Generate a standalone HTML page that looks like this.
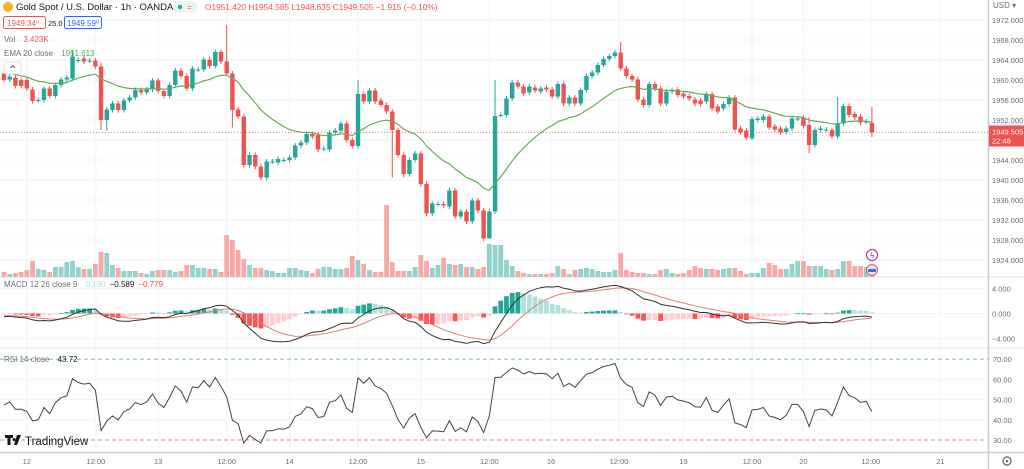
<!DOCTYPE html>
<html><head><meta charset="utf-8">
<style>
html,body{margin:0;padding:0;background:#fff;width:1024px;height:469px;overflow:hidden;font-family:"Liberation Sans",sans-serif;}
#wrap{position:relative;width:1024px;height:469px;}
svg{position:absolute;left:0;top:0;}
</style></head>
<body>
<div id="wrap">
<svg id="chart" width="1024" height="469" viewBox="0 0 1024 469"></svg>
</div>
<script>
// ---- data ----
const opens=[1961.3,1960.1,1960.5,1960.0,1960.0,1958.1,1956,1956,1958.3,1956.8,
1959,1960.1,1960.3,1964,1964.3,1963.9,1963.9,1962.7,1952,1954,
1955.3,1954,1955.9,1956.5,1958,1957.5,1958.1,1959.9,1957.8,1956.8,
1959,1961.9,1960.8,1958.3,1962.1,1962.1,1964.1,1962.8,1965.6,1963.7,
1961.3,1954.1,1952.7,1943,1945,1942.7,1940.5,1943.7,1943.5,1944,
1944,1944.5,1946.9,1947.5,1949.2,1949,1946.3,1946.1,1949.5,1949.9,
1951.3,1948,1946.8,1957.2,1955.7,1957.9,1955.9,1955,1953.7,1950,
1945,1941.2,1944,1945.3,1939.2,1933.3,1935.2,1935.2,1934.7,1937.9,
1932.7,1933.7,1931.7,1935.9,1933.9,1928.3,1933.7,1953,1953,1956.3,
1959.5,1958.7,1957.5,1958.5,1957.7,1958.5,1958.1,1956.7,1959.2,1955.3,
1956.5,1955.3,1958,1960.8,1961.5,1963,1964.2,1964.8,1965.5,1962.3,
1960.8,1960.1,1956.1,1955,1959.2,1958.3,1955.3,1957.7,1958.1,1957.3,
1956.8,1956.1,1955.9,1955.7,1957.2,1954.7,1954.3,1955.2,1956.5,1950.3,
1949.9,1948.3,1952,1952,1952.7,1950.7,1950.3,1949.6,1950.3,1952.3,
1952.5,1951,1947,1950,1950.1,1950,1948.7,1951.3,1954.8,1953.2,
1952.7,1951.7,1951.4];
const closes=[1960.0,1960.7,1958.8,1958.8,1958.3,1955.8,1956,1958.3,1956.8,1959,
1960.1,1960.5,1964.7,1964,1963.7,1963.9,1962.7,1952,1954.1,1955.3,
1954,1955.9,1956.5,1958,1957.5,1958.1,1959.9,1957.8,1956.8,1959,
1961.9,1960.8,1958.3,1962.3,1962.1,1964.1,1962.8,1965.6,1963.7,1961.3,
1954,1952.7,1943,1945,1942.7,1940.5,1943.7,1943.7,1944.2,1944,
1944.5,1946.9,1947.5,1949.2,1948.7,1946.1,1946.3,1949.5,1949.9,1951.3,
1948,1946.8,1957.2,1955.7,1957.9,1955.7,1955,1953.7,1950,1945,
1941.2,1944,1945.3,1939.2,1933.3,1935.3,1935.2,1934.9,1937.9,1932.7,
1933.7,1931.7,1935.9,1933.9,1928.3,1933.7,1952.8,1953,1956.3,1959.5,
1958.7,1957.3,1958.7,1957.9,1958.3,1958.1,1956.7,1959.2,1955.3,1956.5,
1955.3,1958,1960.8,1961.5,1963,1964.2,1964.8,1965.5,1962.3,1960.8,
1960.1,1956.1,1955,1959.2,1958.3,1955.3,1957.7,1958,1957,1956.7,
1956.3,1955.3,1955.2,1957.2,1954.3,1953.7,1955.2,1956.5,1950.1,1949.5,
1948.5,1952.2,1952.3,1952.7,1950.5,1950.1,1949.5,1950.3,1952.3,1952.3,
1950.8,1947,1950,1950.3,1950.1,1948.7,1951.3,1954.8,1953,1952.5,
1951.5,1951.7,1949.5];
const highOverrides={12:1966,17:1963.5,39:1971,62:1960,86:1960,108:1967.6,141:1952.6,146:1956.6,152:1954.6};
const lowOverrides={17:1950,18:1949.8,40:1950.5,68:1940.5,84:1927.8,85:1933,70:1940.5,141:1945.4,152:1948.6,131:1948};
const volumes=[5,3,4,5,7,16,8,7,5,10,10,15,16,10,8,8,13,25,24,12,9,6,6,6,4,3,6,7,7,7,
5,6,12,12,9,9,8,8,5,42,37,27,18,12,9,9,7,6,4,4,9,9,7,6,4,8,10,10,8,8,
9,21,17,13,7,5,5,72,15,6,6,6,10,22,16,9,12,19,13,12,13,10,10,8,10,33,32,
32,17,11,6,4,3,3,3,3,4,11,8,3,7,8,9,8,6,5,5,7,24,7,5,4,4,3,3,7,8,
4,3,4,7,11,9,8,8,7,8,9,9,6,3,4,4,9,14,12,8,8,13,16,16,11,11,11,8,7,8,16,16,11,11,10,8];
const timeTickIdx=[4,16.1,27,39,50,62,73,85,95.8,107.7,119,131,140,151.8,164];
const timeTickLabels=["12","12:00","13","12:00","14","12:00","15","12:00","16","12:00","19","12:00","20","12:00","21"];
const priceTicks=[1972,1968,1964,1960,1956,1952,1944,1940,1936,1932,1928,1924];
const macdTicks=[4,0,-4];
const macdTickLabels=["4.000","0.000","\u22124.000"];
const rsiTicks=[70,60,50,40,30];

// ---- axes ----
const NS='http://www.w3.org/2000/svg';
const svg=document.getElementById('chart');
const xOf=i=>4+i*5.71;
const py=p=>20+(1972-p)*5;
const vy=v=>277-v;
const my=m=>313.5-m*6.3;
const ry=r=>440-(r-30)*2.02;
const UP='#26a69a',DN='#ef5350';
function mk(tag,attrs,parent){const e=document.createElementNS(NS,tag);for(const k in attrs)e.setAttribute(k,attrs[k]);(parent||svg).appendChild(e);return e;}
function txt(x,y,s,attrs){const e=mk('text',Object.assign({x:x,y:y,'font-size':8.5,fill:'#131722','font-family':'Liberation Sans, sans-serif'},attrs||{}));e.textContent=s;return e;}

const grid=mk('g',{});


timeTickIdx.forEach(ix=>{const l=mk('line',{x1:xOf(ix),x2:xOf(ix),y1:0,y2:452,stroke:'#f0f3fa','stroke-width':1},grid);

});
priceTicks.concat([1948]).forEach(p=>{const l=mk('line',{x1:0,x2:988,y1:py(p),y2:py(p),stroke:'#f0f3fa'},grid);

});
macdTicks.forEach(m=>{const l=mk('line',{x1:0,x2:988,y1:my(m),y2:my(m),stroke:'#f0f3fa'},grid);

});
[60,50,40].forEach(r=>{const l=mk('line',{x1:0,x2:988,y1:ry(r),y2:ry(r),stroke:'#f0f3fa'},grid);

});

[[277],[348]].forEach(a=>{const l=mk('line',{x1:0,x2:1024,y1:a[0],y2:a[0],stroke:'#e0e3eb','stroke-width':1});

});
const bax=mk('line',{x1:0,x2:1024,y1:452.5,y2:452.5,stroke:'#c8cbd3','stroke-width':1.5});


const rax=mk('line',{x1:988.5,x2:988.5,y1:0,y2:469,stroke:'#c8cbd3','stroke-width':1.5});



const vg=mk('g',{});


closes.forEach((c,i)=>{const v=volumes[i]||0;const up=c>=opens[i];
const r=mk('rect',{x:xOf(i)-2.4,y:vy(v),width:4.8,height:v,fill:up?'#92d2cc':'#f7a9a7'},vg);

});

const lp=closes[closes.length-1];
const lpl=mk('line',{x1:0,x2:988,y1:py(lp),y2:py(lp),stroke:'#ef5350','stroke-width':0.7,'stroke-dasharray':'1,2'});



const cg=mk('g',{});


closes.forEach((c,i)=>{const o=opens[i];const up=c>=o;const col=up?UP:DN;
const hi=highOverrides[i]!==undefined?highOverrides[i]:Math.max(o,c)+0.5;
const lo=lowOverrides[i]!==undefined?lowOverrides[i]:Math.min(o,c)-0.5;
const x=xOf(i);
const w=mk('line',{x1:x,x2:x,y1:py(hi),y2:py(lo),stroke:col,'stroke-width':1},cg);


const top=py(Math.max(o,c)),h=Math.max(1,py(Math.min(o,c))-top);
const b=mk('rect',{x:x-2.2,y:top,width:4.4,height:h,fill:col},cg);

});

function ema(arr,n,seed){const k=2/(n+1);let e=seed!==undefined?seed:arr[0];return arr.map(v=>(e=v*k+e*(1-k)));}
const ema20=ema(closes,20,1961.5);
const e12=ema(closes,12,1960.6),e26=ema(closes,26,1961.1);
const macd=e12.map((v,i)=>v-e26[i]);
const sig=ema(macd,9,-0.3);
const hist=macd.map((v,i)=>v-sig[i]);
let ag=0.9,al=1.0;const rsi=closes.map((c,i)=>{if(i>0){const d=c-closes[i-1];ag=(ag*13+Math.max(d,0))/14;al=(al*13+Math.max(-d,0))/14;}return 100-100/(1+ag/al);});
function path(vals,yf){return vals.map((v,i)=>(i?'L':'M')+xOf(i).toFixed(1)+','+yf(v).toFixed(1)).join('');}
const emaP=mk('path',{d:path(ema20,py),fill:'none',stroke:'#66aa55','stroke-width':1.2});



const hg=mk('g',{});


hist.forEach((h,i)=>{const prev=i?hist[i-1]:h;let col;
if(h>=0)col=h>=prev?'#26a69a':'#b2dfdb';else col=h<prev?'#ff5252':'#ffcdd2';
const y0=my(0),y1=my(h);
const r=mk('rect',{x:xOf(i)-2.4,y:Math.min(y0,y1),width:4.8,height:Math.max(0.8,Math.abs(y1-y0)),fill:col},hg);

});
const sp=mk('path',{d:path(sig,my),fill:'none',stroke:'#e08070','stroke-width':1});


const mp=mk('path',{d:path(macd,my),fill:'none',stroke:'#333','stroke-width':1});



[[70,'#7cc4b8'],[30,'#e08a8a']].forEach(a=>{const l=mk('line',{x1:0,x2:988,y1:ry(a[0]),y2:ry(a[0]),stroke:a[1],'stroke-dasharray':'4,3','stroke-width':1});

});
const rp=mk('path',{d:path(rsi,ry),fill:'none',stroke:'#444','stroke-width':1});



priceTicks.forEach(p=>{const t=txt(992,py(p)+3,p.toFixed(3),{fill:'#6a6d78','font-size':7.5});

});
macdTicks.forEach((m,i)=>{const t=txt(992,my(m)+3,macdTickLabels[i],{fill:'#6a6d78','font-size':7.5});

});
rsiTicks.forEach(r=>{const t=txt(993,ry(r)+3,r.toFixed(2),{fill:'#6a6d78','font-size':7.5});

});
timeTickIdx.forEach((ix,i)=>{const t=txt(xOf(ix),464,timeTickLabels[i],{fill:'#6a6d78','font-size':7.5,'text-anchor':'middle'});

});

const lb=mk('rect',{x:989,y:py(lp)-7,width:35,height:21,fill:'#ef5350'});


const l1=txt(992,py(lp)+2,lp.toFixed(3).replace(/0$/,'5'),{fill:'#fff','font-size':7.5});


const l2=txt(992,py(lp)+11,'22:48',{fill:'#fff','font-size':7.5});


</script>
<svg width="1024" height="469" style="pointer-events:none">
  <g>
    <circle cx="8" cy="7" r="5" fill="#f0b429"/>
    <text x="16" y="10" font-size="9.5" fill="#131722" font-family="Liberation Sans, sans-serif">Gold Spot / U.S. Dollar · 1h · OANDA</text>
    <rect x="173" y="1" width="24" height="12" rx="6" fill="#e8f5f3"/>
    <circle cx="180" cy="7" r="2.2" fill="#26a69a"/>
    <text x="187" y="10" font-size="8" fill="#ef5350" font-family="Liberation Sans, sans-serif">=</text>
    <text x="205" y="10" font-size="8.3" fill="#ef5350" font-family="Liberation Sans, sans-serif">O1951.420  H1954.585  L1948.635  C1949.505  −1.915 (−0.10%)</text>
  </g>
  <g>
    <rect x="3.5" y="16.5" width="42" height="12" rx="2" fill="#fff" stroke="#ef5350"/>
    <text x="7" y="26" font-size="8" fill="#ef5350" font-family="Liberation Sans, sans-serif">1949.34⁰</text>
    <text x="48" y="26" font-size="7.5" fill="#131722" font-family="Liberation Sans, sans-serif">25.0</text>
    <rect x="64.5" y="16.5" width="37" height="12" rx="2" fill="#fff" stroke="#2962ff"/>
    <text x="67" y="26" font-size="8" fill="#2962ff" font-family="Liberation Sans, sans-serif">1949.59⁰</text>
  </g>
  <text x="4" y="42" font-size="8" fill="#6a6d78" font-family="Liberation Sans, sans-serif">Vol <tspan fill="#ef5350" dx="6">3.423K</tspan></text>
  <text x="4" y="56" font-size="8" fill="#6a6d78" font-family="Liberation Sans, sans-serif">EMA 20 close <tspan fill="#4caf50" dx="6">1951.613</tspan></text>
  <g>
    <rect x="4" y="62" width="17" height="12" rx="2" fill="#fff" stroke="#e0e3eb"/>
    <text x="9" y="72" font-size="9" fill="#131722" font-family="DejaVu Sans, sans-serif">^</text>
  </g>
  <text x="4" y="287" font-size="8" fill="#6a6d78" font-family="Liberation Sans, sans-serif">MACD 12 26 close 9 <tspan fill="#b2dfdb" dx="6">0.190</tspan><tspan fill="#131722" dx="4">−0.589</tspan><tspan fill="#ef5350" dx="4">−0.779</tspan></text>
  <text x="4" y="362" font-size="8" fill="#6a6d78" font-family="Liberation Sans, sans-serif">RSI 14 close <tspan fill="#131722" dx="6">43.72</tspan></text>
  <text x="993" y="8" font-size="8" fill="#6a6d78" font-family="Liberation Sans, sans-serif">USD ▾</text>
  <g>
    <circle cx="872" cy="255" r="5.5" fill="#fff" stroke="#9c27b0"/>
    <text x="869.5" y="258.5" font-size="8" fill="#9c27b0" font-family="DejaVu Sans, sans-serif">ϟ</text>
    <circle cx="872" cy="270" r="5.5" fill="#e0e8f8" stroke="#ef5350"/>
    <rect x="868" y="269" width="8" height="3" fill="#4a6fd0"/>
  </g>
  <g>
    <path d="M5 435h8v3h-2.5v7h-3v-7H5z M14 438a1.6 1.6 0 1 0 0.1 0z M17 435h4l-4 10h-3z" fill="#131722"/>
    <text x="25" y="445" font-size="11.5" fill="#131722" font-family="Liberation Sans, sans-serif">TradingView</text>
  </g>
  <g>
    <circle cx="1007" cy="461" r="4" fill="none" stroke="#6a6d78" stroke-width="1.4"/>
    <circle cx="1007" cy="461" r="1.3" fill="#6a6d78"/>
  </g>
</svg>
</body></html>
